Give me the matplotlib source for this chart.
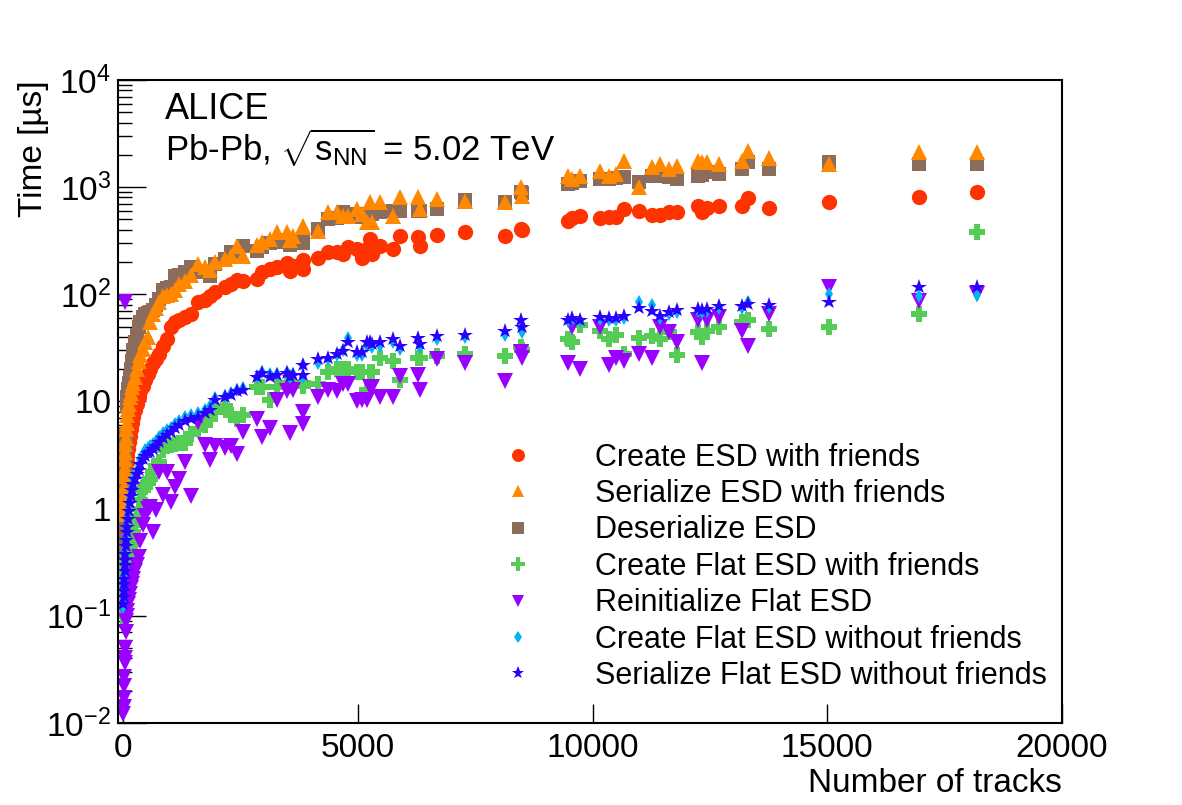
import numpy as np
import matplotlib
matplotlib.use("Agg")
import matplotlib.pyplot as plt
from matplotlib.ticker import FixedLocator, FixedFormatter, NullLocator

plt.rcParams['font.family'] = ['Liberation Sans', 'DejaVu Sans']
plt.rcParams['mathtext.fontset'] = 'custom'
plt.rcParams['mathtext.rm'] = 'Liberation Sans'
plt.rcParams['mathtext.it'] = 'Liberation Sans:italic'
plt.rcParams['mathtext.bf'] = 'Liberation Sans:bold'

# ===== data: one entry per event =====
n_tracks = [
    5, 10, 15, 20, 25, 30, 35, 40, 48, 55, 65, 75, 90, 105, 120, 140, 160, 185, 215, 250,
    290, 330, 370, 420, 470, 520, 575, 640, 700, 770, 850, 930, 1010, 1100, 1200, 1320, 1450, 1600, 1750, 1850,
    1960, 2170, 2300, 2430, 2550,
    2850, 2960, 3130, 3280, 3490, 3550, 3620, 3830, 3840, 4150, 4360, 4550, 4680, 4790, 4980, 5090, 5190, 5260, 5300, 5470,
    5750, 5900, 6280, 6320, 6680, 7280, 8130, 8480, 8500,
    9470, 9560, 9725, 10150, 10360, 10510, 10680, 11000, 11260, 11430, 11640, 11790, 12240, 12330, 12430, 12700, 13190, 13320, 13750,
    15045, 16960, 18200,
]

create_esd = [
    0.6, 0.7, 0.8, 0.9, 1.0, 1.2, 1.3, 1.5, 1.7, 2.0, 2.3, 2.7, 3.1, 3.6, 4.2, 4.8, 5.5, 6.3, 7.2, 8.3,
    9.5, 11, 12.5, 14, 16, 18, 20, 23, 25, 28, 33, 38, 50, 55, 58, 62, 66, 84, 88, 96,
    105, 116, 125, 135, 132,
    138, 160, 172, 178, 195, 165, 183, 211, 172, 220, 246, 250, 236, 275, 262, 220, 262, 325, 236, 280,
    262, 350, 343, 280, 355, 380, 350, 405, 400,
    482, 520, 537, 514, 525, 525, 624, 595, 550, 550, 580, 580, 665, 580, 645, 665, 665, 790, 637,
    724, 807, 898,
]
serialize_esd = [
    0.9, 1.1, 1.3, 1.6, 2.0, 2.4, 2.9, 3.4, 4.0, 4.6, 5.5, 6.3, 7.5, 8.5, 9.5, 11, 12, 13.5, 15, 17,
    20, 24, 27, 31, 36, 40, 55, 65, 75, 85, 96, 98, 100, 110, 125, 132, 150, 190, 180, 170,
    200, 213, 230, 280, 226,
    290, 310, 330, 380, 380, 320, 350, 430, 420, 390, 580, 580, 537, 537, 624, 560, 470, 724, 470, 724,
    537, 805, 805, 624, 770, 740, 724, 1000, 820,
    1260, 1200, 1260, 1420, 1260, 1320, 1770, 1000, 1530, 1650, 1470, 1570, 1770, 1700, 1710, 1650, 1770, 2170, 1860,
    1650, 2120, 2120,
]
deserialize_esd = [
    0.4, 0.5, 0.7, 0.9, 1.2, 1.6, 2.0, 2.6, 3.2, 4.0, 5.0, 9.0, 11, 13, 15, 17, 20, 24, 30, 36,
    42, 50, 55, 62, 65, 67, 68, 72, 80, 90, 110, 115, 118, 147, 150, 160, 178, 160, 165, 147,
    190, 215, 250, 250, 280,
    255, 275, 300, 310, 320, 290, 305, 310, 300, 405, 505, 520, 580, 560, 525, 530, 560, 560, 560, 590,
    600, 600, 600, 600, 624, 755, 724, 900, 880,
    1060, 1100, 1140, 1190, 1200, 1220, 1240, 1110, 1260, 1280, 1250, 1190, 1260, 1300, 1375, 1320, 1470, 1710, 1470,
    1713, 1640, 1640,
]
create_flat = [
    0.10, 0.11, 0.12, 0.13, 0.14, 0.15, 0.17, 0.19, 0.21, 0.23, 0.26, 0.29, 0.32, 0.36, 0.4, 0.43, 0.47, 0.52, 0.6, 0.7,
    0.85, 1.0, 1.2, 1.5, 1.6, 1.75, 1.87, 2.2, 2.5, 2.75, 3.5, 3.8, 3.9, 4.0, 4.1, 4.1, 5.0, 5.5, 6.0, 6.8,
    8.0, 9.0, 7.5, 6.8, 7.5,
    13.5, 13.5, 10.4, 13.5, 15, 14, 15, 15, 14, 14.4, 19, 20, 20, 20, 19, 19, 12.9, 19, 19, 25.7,
    23.6, 16, 25.7, 25.7, 26.4, 27.5, 26.4, 32, 30,
    38, 36, 52, 45, 38, 42, 27.5, 39.5, 40.5, 38, 44, 27, 44, 40, 45, 49, 55, 58, 47,
    49, 65, 380,
]
reinit_flat = [
    0.012, 0.014, 0.017, 0.022, 0.027, 0.036, 85, 0.04, 0.05, 0.07, 0.09, 0.1, 0.11, 0.13, 0.14, 0.16, 0.18, 0.2, 0.22, 0.26,
    0.3, 0.35, 0.5, 0.71, 0.85, 1.0, 1.04, 0.61, 0.98, 2.2, 1.35, 2.2, 1.16, 1.6, 1.87, 2.7, 1.3, 6.4, 3.96, 2.87,
    3.8, 3.7, 3.8, 3.2, 5.2,
    6.8, 4.7, 5.7, 10.4, 12.4, 5.1, 12.9, 7.9, 6.1, 11.1, 12.9, 12.4, 14.4, 14.4, 10, 10.4, 10.4, 13.5, 13.5, 11.1,
    11.1, 17.1, 17.8, 12.9, 24.7, 23, 15.4, 28.7, 25.7,
    23, 49, 20, 49, 22, 25.7, 23.6, 27.5, 25.7, 50, 44, 35.6, 58, 23, 58, 61, 45, 32.6, 65,
    116, 86, 100,
]
create_flat_nofr = [
    0.12, 0.14, 0.17, 0.21, 0.24, 0.28, 0.33, 0.37, 0.42, 0.5, 0.57, 0.66, 0.76, 0.9, 1.05, 1.25, 1.45, 1.65, 1.9, 2.1,
    2.3, 2.6, 2.9, 3.2, 3.5, 3.7, 3.8, 4.0, 4.3, 4.7, 5.1, 5.4, 5.7, 6.1, 6.6, 7.1, 7.4, 7.8, 8.4, 9.0,
    10.8, 11.3, 12.0, 12.8, 13.4,
    17, 19, 18, 18, 19, 17, 18, 22, 17, 23, 25, 27, 30, 39.5, 27, 27, 33, 34, 32, 33,
    36, 31, 37, 32, 38, 40, 42, 48, 44,
    56, 57, 56, 59, 57, 58, 60, 84, 80, 60, 66, 68, 70, 68, 70, 74, 74, 85, 76,
    100, 96, 98,
]
serialize_flat_nofr = [
    0.13, 0.15, 0.17, 0.2, 0.22, 0.26, 0.3, 0.33, 0.38, 0.45, 0.51, 0.6, 0.68, 0.8, 0.95, 1.14, 1.3, 1.5, 1.7, 1.9,
    2.1, 2.3, 2.6, 2.9, 3.1, 3.3, 3.4, 3.6, 3.8, 4.2, 4.6, 4.9, 5.2, 5.6, 6.0, 6.6, 6.9, 7.2, 7.8, 8.4,
    10.4, 10.9, 11.5, 12.4, 12.8,
    17, 18.6, 17, 17.5, 18.5, 17, 17.8, 22, 17.8, 24.7, 25.7, 27.5, 29.3, 35.6, 28.7, 28.7, 35.6, 35.6, 34, 35.6,
    38, 32.6, 39.5, 34, 40.5, 42, 45, 58, 50,
    58, 59.5, 58, 61, 59.5, 59.5, 62.5, 75, 69.5, 62.5, 68, 71, 72.5, 72, 72.5, 77, 77, 82, 79,
    84, 116, 116,
]

series = [
    ("Create ESD with friends", create_esd, "o", "#ff3300", 11),
    ("Deserialize ESD", deserialize_esd, "s", "#8c6c5a", 10.5),
    ("Serialize ESD with friends", serialize_esd, "^", "#ff8800", 11),
    ("Create Flat ESD with friends", create_flat, "P", "#55cc55", 12),
    ("Reinitialize Flat ESD", reinit_flat, "v", "#9900ff", 11),
    ("Create Flat ESD without friends", create_flat_nofr, "d", "#00b4f0", 7),
    ("Serialize Flat ESD without friends", serialize_flat_nofr, "*", "#2a00ff", 11.5),
]
legend_order = [
    "Create ESD with friends", "Serialize ESD with friends", "Deserialize ESD",
    "Create Flat ESD with friends", "Reinitialize Flat ESD",
    "Create Flat ESD without friends", "Serialize Flat ESD without friends",
]

fig = plt.figure(figsize=(11.82, 8.05), dpi=100)
ax = fig.add_axes([0.0998, 0.1019, 0.7986, 0.7988])

handles = {}
for label, vals, mk, col, ms in series:
    h, = ax.plot(n_tracks, vals, ls="none", marker=mk, ms=ms, mew=0, color=col, label=label)
    handles[label] = h

ax.set_yscale("log")
ax.set_xlim(-110, 20000)
ax.set_ylim(1e-2, 1e4)

ax.xaxis.set_major_locator(FixedLocator([0, 5000, 10000, 15000, 20000]))
ax.xaxis.set_minor_locator(NullLocator())
ax.yaxis.set_major_locator(FixedLocator([1e-2, 1e-1, 1, 10, 1e2, 1e3, 1e4]))
ax.yaxis.set_major_formatter(FixedFormatter([r"$10^{-2}$", r"$10^{-1}$", "1", "10",
                                             r"$10^{2}$", r"$10^{3}$", r"$10^{4}$"]))
minors = [m * 10.0 ** e for e in range(-2, 4) for m in range(2, 10)]
ax.yaxis.set_minor_locator(FixedLocator(minors))

ax.tick_params(axis="both", which="both", direction="in", top=False, right=False, labelsize=24)
ax.tick_params(axis="y", which="major", length=20, width=1, pad=5)
ax.tick_params(axis="y", which="minor", length=10, width=1)
ax.tick_params(axis="x", which="major", length=14, width=1, pad=7)
for sp in ax.spines.values():
    sp.set_linewidth(1.5)

ax.set_xlabel("Number of tracks", fontsize=24, ha="right", va="top")
ax.xaxis.set_label_coords(1.0, -0.07)
ax.set_ylabel("Time [µs]", fontsize=24, ha="right", va="center")
ax.yaxis.set_label_coords(-0.09, 1.0)

ax.text(0.05, 0.939, "ALICE", transform=ax.transAxes, fontsize=26)
ax.text(0.05, 0.874, r"Pb-Pb, $\sqrt{\mathrm{s}_{\mathrm{NN}}}$ = 5.02 TeV",
        transform=ax.transAxes, fontsize=25)

ax.legend([handles[l] for l in legend_order], legend_order, loc="upper left",
          bbox_to_anchor=(0.408, 0.436), frameon=False, fontsize=22,
          markerscale=0.85, handlelength=1.0, handletextpad=2.0,
          labelspacing=0.21, borderpad=0, borderaxespad=0, numpoints=1)

fig.savefig("out.png", dpi=100)
